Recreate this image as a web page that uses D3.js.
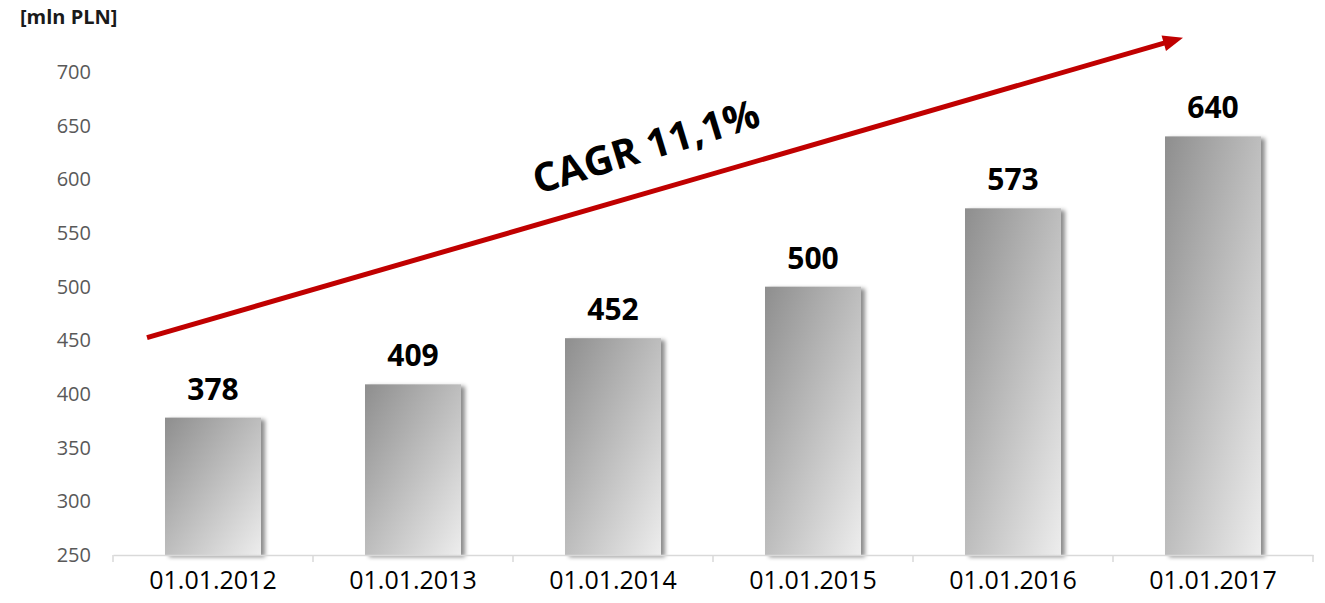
<!DOCTYPE html>
<html>
<head>
<meta charset="utf-8">
<script src="https://cdn.jsdelivr.net/npm/d3@7"></script>
<style>
  body { margin: 0; background: #fff; }
  svg { display: block; font-family: "Open Sans", sans-serif; }
</style>
</head>
<body>
<div id="chart"></div>
<script>
// chart data
var categories = ["01.01.2012", "01.01.2013", "01.01.2014", "01.01.2015", "01.01.2016", "01.01.2017"];
var values = [378, 409, 452, 500, 573, 640];
var yTicks = [250, 300, 350, 400, 450, 500, 550, 600, 650, 700];
var unitLabel = "[mln PLN]";
var trendLabel = "CAGR 11,1%";

var svgWidth = 1325;
var svgHeight = 603;

var margin = { top: 72, right: 12, bottom: 48, left: 113 };
var width = svgWidth - margin.left - margin.right;
var height = svgHeight - margin.top - margin.bottom;

var svg = d3.select("#chart")
    .append("svg")
    .attr("width", svgWidth)
    .attr("height", svgHeight);

var defs = svg.append("defs");

var grad = defs.append("linearGradient")
    .attr("id", "barGrad")
    .attr("x1", 0).attr("y1", 0)
    .attr("x2", 1).attr("y2", 1);
grad.append("stop").attr("offset", "0%").attr("stop-color", "#8e8e8e");
grad.append("stop").attr("offset", "100%").attr("stop-color", "#ededed");

var shadow = defs.append("filter")
    .attr("id", "barShadow")
    .attr("x", "-10%").attr("y", "-10%")
    .attr("width", "130%").attr("height", "120%");
shadow.append("feDropShadow")
    .attr("dx", 4).attr("dy", 2)
    .attr("stdDeviation", 2)
    .attr("flood-color", "#000")
    .attr("flood-opacity", 0.45);

var chartGroup = svg.append("g")
    .attr("transform", `translate(${margin.left}, ${margin.top})`);

var xScale = d3.scaleBand()
    .domain(categories)
    .range([0, width])
    .padding(0);

var yScale = d3.scaleLinear()
    .domain([250, 700])
    .range([height, 0]);

var barWidth = xScale.bandwidth() * 0.48;

// y axis labels only
var yAxis = chartGroup.append("g")
    .call(d3.axisLeft(yScale).tickValues(yTicks).tickSize(0).tickPadding(22));
yAxis.select(".domain").remove();
yAxis.selectAll("text")
    .attr("fill", "#595959")
    .style("font-size", "20px")
    .style("font-family", "'Open Sans', sans-serif");

// bars
chartGroup.selectAll(".bar")
    .data(values)
    .enter()
    .append("rect")
    .attr("class", "bar")
    .attr("x", (d, i) => xScale(categories[i]) + (xScale.bandwidth() - barWidth) / 2)
    .attr("y", d => yScale(d))
    .attr("width", barWidth)
    .attr("height", d => height - yScale(d))
    .attr("fill", "url(#barGrad)")
    .attr("filter", "url(#barShadow)");

// x axis
var xAxis = chartGroup.append("g")
    .attr("transform", `translate(0, ${height})`)
    .call(d3.axisBottom(xScale).tickSize(0).tickPadding(16).tickSizeOuter(0));
xAxis.select(".domain").attr("stroke", "#d9d9d9").attr("stroke-width", 1.5);
xAxis.selectAll("text")
    .attr("fill", "#000")
    .style("font-size", "25px")
    .style("font-family", "'Open Sans', sans-serif");

var boundaries = categories.map(c => xScale(c)).concat([width]);
xAxis.selectAll(".sep")
    .data(boundaries)
    .enter()
    .append("line")
    .attr("class", "sep")
    .attr("x1", d => d).attr("x2", d => d)
    .attr("y1", 0).attr("y2", 7)
    .attr("stroke", "#d9d9d9")
    .attr("stroke-width", 1.5);

// value labels
chartGroup.selectAll(".val")
    .data(values)
    .enter()
    .append("text")
    .attr("class", "val")
    .attr("x", (d, i) => xScale(categories[i]) + xScale.bandwidth() / 2)
    .attr("y", d => yScale(d) - 18)
    .attr("text-anchor", "middle")
    .style("font-size", "30px")
    .style("font-weight", "bold")
    .attr("fill", "#000")
    .text(d => d);

// unit label
svg.append("text")
    .attr("x", 20)
    .attr("y", 24)
    .style("font-size", "20px")
    .style("font-weight", "bold")
    .attr("fill", "#1a1a1a")
    .text(unitLabel);

// trend arrow (placed in data space)
var x0 = xScale(categories[0]) + 34, y0 = yScale(452.5);
var x1 = xScale(categories[5]) + 70, y1 = yScale(732);
var ang = Math.atan2(y1 - y0, x1 - x0);
var headLen = 20, headHalf = 8;
var bx = x1 - headLen * Math.cos(ang), by = y1 - headLen * Math.sin(ang);

chartGroup.append("line")
    .attr("x1", x0).attr("y1", y0)
    .attr("x2", bx + 2 * Math.cos(ang)).attr("y2", by + 2 * Math.sin(ang))
    .attr("stroke", "#c00000")
    .attr("stroke-width", 5);

chartGroup.append("path")
    .attr("d", `M${x1},${y1}L${bx - headHalf * Math.sin(ang)},${by + headHalf * Math.cos(ang)}L${bx + headHalf * Math.sin(ang)},${by - headHalf * Math.cos(ang)}Z`)
    .attr("fill", "#c00000");

// CAGR text
var tx = 650 - margin.left, ty = 160 - margin.top;
chartGroup.append("text")
    .attr("transform", `translate(${tx}, ${ty}) rotate(-17)`)
    .attr("text-anchor", "middle")
    .style("font-size", "40px")
    .style("font-weight", "bold")
    .attr("fill", "#000")
    .text(trendLabel);
</script>
</body>
</html>
